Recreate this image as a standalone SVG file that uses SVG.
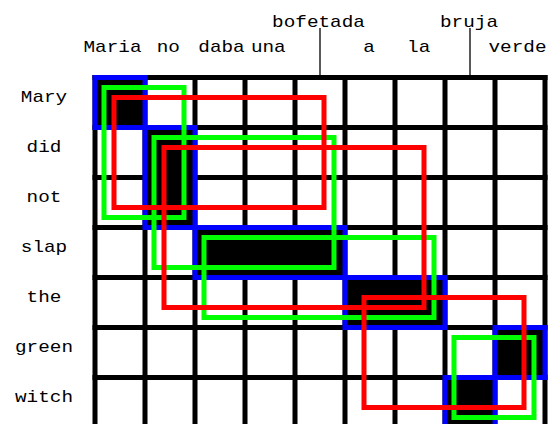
<svg xmlns="http://www.w3.org/2000/svg" width="550" height="424" viewBox="0 0 550 424">
<style>
text{font-family:"Liberation Mono","Courier New",monospace;font-size:17px;fill:#000;text-anchor:middle}
.g{stroke:#000;stroke-width:5;stroke-linecap:square;fill:none}
.cell{fill:#000}
.blue{fill:none;stroke:#0000ff;stroke-width:5}
.green{fill:none;stroke:#00ff00;stroke-width:5}
.red{fill:none;stroke:#ff0000;stroke-width:5}
.tick{stroke:#000;stroke-width:1.3}
</style>
<rect width="550" height="424" fill="#fff"/>
<g id="grid" class="g">
<path d="M95 77.5V430M145 77.5V430M195 77.5V430M245 77.5V430M295 77.5V430M345 77.5V430M395 77.5V430M445 77.5V430M495 77.5V430M545 77.5V430"/>
<path d="M95 77.5H545M95 127.5H545M95 177.5H545M95 227.5H545M95 277.5H545M95 327.5H545M95 377.5H545M95 427.5H545"/>
</g>
<g id="alignments">
<g id="a-mary"><rect class="cell" x="95" y="77.5" width="50" height="50"/><rect class="blue" x="95" y="77.5" width="50" height="50"/></g>
<g id="a-didnot"><rect class="cell" x="145" y="127.5" width="50" height="100"/><rect class="blue" x="145" y="127.5" width="50" height="100"/></g>
<g id="a-slap"><rect class="cell" x="195" y="227.5" width="150" height="50"/><rect class="blue" x="195" y="227.5" width="150" height="50"/></g>
<g id="a-the"><rect class="cell" x="345" y="277.5" width="100" height="50"/><rect class="blue" x="345" y="277.5" width="100" height="50"/></g>
<g id="a-green"><rect class="cell" x="495" y="327.5" width="50" height="50"/><rect class="blue" x="495" y="327.5" width="50" height="50"/></g>
<g id="a-witch"><rect class="cell" x="445" y="377.5" width="50" height="50"/><rect class="blue" x="445" y="377.5" width="50" height="50"/></g>
</g>
<g id="phrases-green">
<rect id="g1" class="green" x="104" y="87.5" width="80" height="130"/>
<rect id="g2" class="green" x="154" y="137.5" width="180" height="130"/>
<rect id="g3" class="green" x="204" y="237.5" width="230" height="80"/>
<rect id="g4" class="green" x="454" y="337.5" width="80" height="80"/>
</g>
<g id="phrases-red">
<rect id="r1" class="red" x="114" y="97.5" width="210" height="110"/>
<rect id="r2" class="red" x="164" y="147.5" width="260" height="160"/>
<rect id="r3" class="red" x="364" y="297.5" width="160" height="110"/>
</g>
<g id="connectors">
<line class="tick" x1="320" y1="28" x2="320" y2="75"/>
<line class="tick" x1="470" y1="28" x2="470" y2="75"/>
</g>
<g id="spanish">
<text x="318.5" y="26.5" textLength="92.8" lengthAdjust="spacingAndGlyphs">bofetada</text>
<text x="469" y="26.5" textLength="58" lengthAdjust="spacingAndGlyphs">bruja</text>
<text x="112.5" y="51.7" textLength="58" lengthAdjust="spacingAndGlyphs">Maria</text>
<text x="168.3" y="51.7" textLength="23.2" lengthAdjust="spacingAndGlyphs">no</text>
<text x="221.5" y="51.7" textLength="46.4" lengthAdjust="spacingAndGlyphs">daba</text>
<text x="268.3" y="51.7" textLength="34.8" lengthAdjust="spacingAndGlyphs">una</text>
<text x="369" y="51.7" textLength="11.6" lengthAdjust="spacingAndGlyphs">a</text>
<text x="418.7" y="51.7" textLength="23.2" lengthAdjust="spacingAndGlyphs">la</text>
<text x="517.5" y="51.7" textLength="58" lengthAdjust="spacingAndGlyphs">verde</text>
</g>
<g id="english">
<text x="44" y="101.7" textLength="46.4" lengthAdjust="spacingAndGlyphs">Mary</text>
<text x="44" y="151.7" textLength="34.8" lengthAdjust="spacingAndGlyphs">did</text>
<text x="44" y="201.7" textLength="34.8" lengthAdjust="spacingAndGlyphs">not</text>
<text x="44" y="251.7" textLength="46.4" lengthAdjust="spacingAndGlyphs">slap</text>
<text x="44" y="301.7" textLength="34.8" lengthAdjust="spacingAndGlyphs">the</text>
<text x="44" y="351.7" textLength="58" lengthAdjust="spacingAndGlyphs">green</text>
<text x="44" y="401.7" textLength="58" lengthAdjust="spacingAndGlyphs">witch</text>
</g>
</svg>
